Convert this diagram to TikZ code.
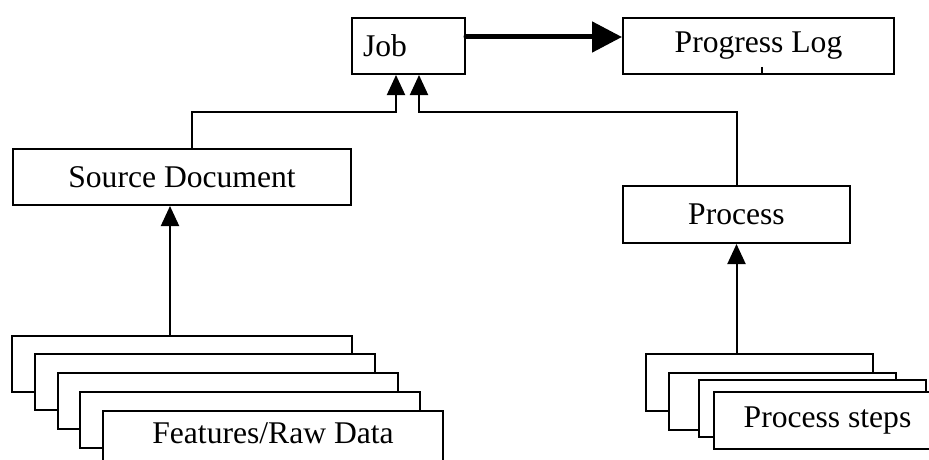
\documentclass[tikz,border=0pt]{standalone}
\usepackage{fontspec}
\setmainfont{Liberation Serif}
\usetikzlibrary{arrows.meta,calc}
\begin{document}
\begin{tikzpicture}[x=1pt,y=-1pt,
  box/.style={draw=black, line width=2pt, fill=white, anchor=north west, inner sep=0pt, font=\fontsize{31.6}{36}\selectfont},
  arr/.style={line width=2pt, -{Triangle[length=20pt,width=18pt]}},
  thickarr/.style={line width=5pt, line cap=round, -{Triangle[length=30pt,width=30pt]}}]
\useasboundingbox (0,0) rectangle (929,460);
% top row
\node[box, minimum height=56, inner xsep=11pt, text width=91pt, align=left] (job) at (351,17) {Job};
\node[box, minimum width=271, minimum height=56] (prog) at (622,17) {Progress Log};
\draw[line width=1.5pt] (762,67) -- (762,73);
% middle row
\node[box, minimum width=338, minimum height=56] (src) at (12,148) {Source Document};
\node[box, minimum width=227, minimum height=57] (proc) at (622,185) {Process};
% left stack
\node[box, minimum width=340, minimum height=56] (l1) at (11,335) {};
\node[box, minimum width=340, minimum height=56] (l2) at (34,353) {};
\node[box, minimum width=340, minimum height=56] (l3) at (57,372) {};
\node[box, minimum width=340, minimum height=56] (l4) at (79,391) {};
\node[box, minimum width=340, minimum height=56, text depth=11pt] (l5) at (102,410) {Features/Raw Data};
% right stack
\node[box, minimum width=227, minimum height=57] (r1) at (645,353) {};
\node[box, minimum width=227, minimum height=57] (r2) at (668,372) {};
\node[box, minimum width=227, minimum height=57] (r3) at (698,379) {};
\node[box, minimum width=227, minimum height=57] (r4) at (713,391) {Process steps};
% connectors
\draw[thickarr] ($(job.north east)+(0,20)$) -- ($(prog.north west)+(0,20)$);
\draw[arr] ($(src.north west)+(180,0)$) |- ($(job.south west)+(45,37)$) -- ($(job.south west)+(45,0)$);
\draw[arr] (proc.north) |- ($(job.south west)+(68,37)$) -- ($(job.south west)+(68,0)$);
\draw[arr] ($(l1.north west)+(159,0)$) -- ($(src.south west)+(158,0)$);
\draw[arr] (r1.north -| proc.south) -- (proc.south);
\end{tikzpicture}
\end{document}
